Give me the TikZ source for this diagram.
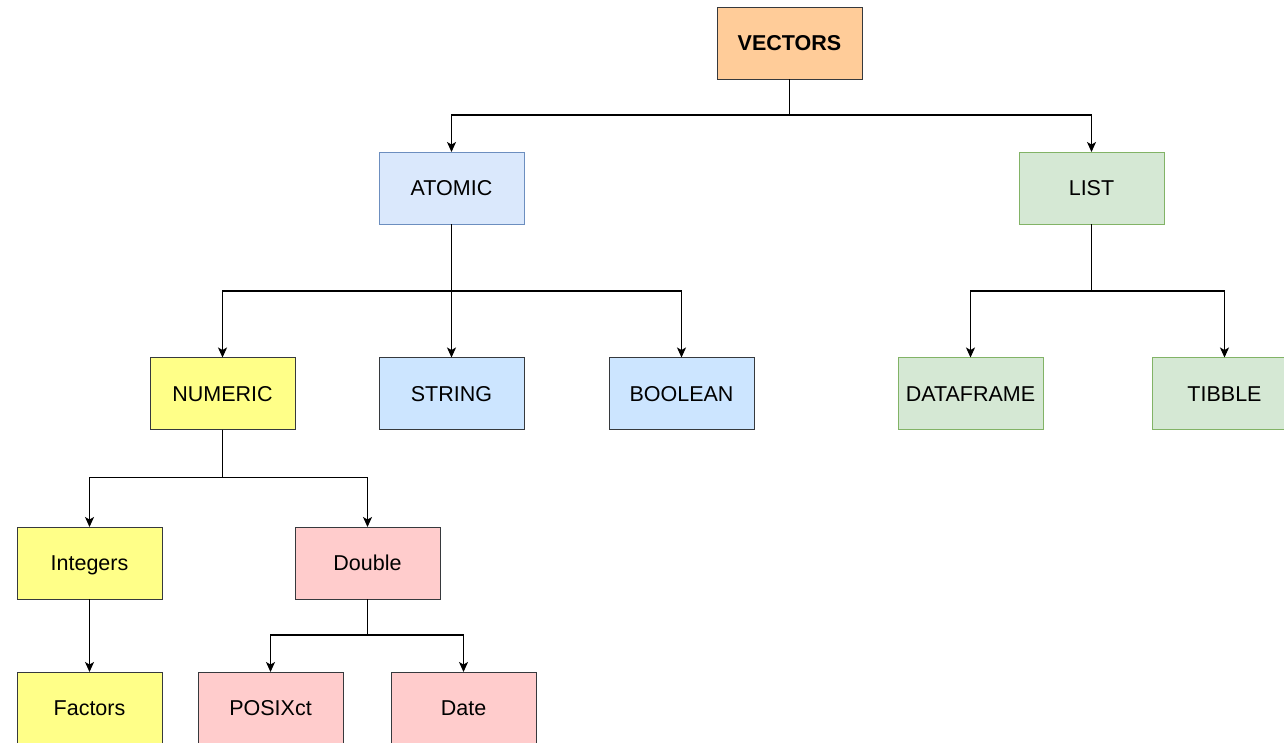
\documentclass[tikz,border=0pt]{standalone}
\usepackage{fontspec}
\setmainfont{Liberation Sans}
\usetikzlibrary{arrows.meta}
\definecolor{orfill}{HTML}{FFCC99}
\definecolor{dkline}{HTML}{36393D}
\definecolor{bluefill}{HTML}{DAE8FC}
\definecolor{blueline}{HTML}{6C8EBF}
\definecolor{bluefillb}{HTML}{CCE5FF}
\definecolor{grfill}{HTML}{D5E8D4}
\definecolor{grline}{HTML}{82B366}
\definecolor{yefill}{HTML}{FFFF88}
\definecolor{pkfill}{HTML}{FFCCCC}
\tikzset{
  box/.style={rectangle, minimum width=145pt, minimum height=72pt, inner sep=0pt, outer sep=0pt, line width=1pt, font=\fontsize{21.5}{25}\selectfont, text height=15.4pt, text depth=0pt},
  orbox/.style={box, fill=orfill, draw=dkline},
  bluebox/.style={box, fill=bluefill, draw=blueline},
  sbluebox/.style={box, fill=bluefillb, draw=dkline},
  grbox/.style={box, fill=grfill, draw=grline},
  yebox/.style={box, fill=yefill, draw=dkline},
  pkbox/.style={box, fill=pkfill, draw=dkline},
  arr/.style={draw=black, line width=1.2pt, -{Stealth[length=10pt,width=9pt,inset=2.5pt]}}
}
\begin{document}
\begin{tikzpicture}[x=1pt,y=-1pt]
\useasboundingbox (0,0) rectangle (1284,742);
\clip (0,0) rectangle (1284,742);
\fill[white] (0,0) rectangle (1284,742);
\node[orbox] (vec) at (789.5,43) {\textbf{VECTORS}};
\node[bluebox] (atomic) at (451.5,188) {ATOMIC};
\node[grbox] (list) at (1091.5,188) {LIST};
\node[yebox] (numeric) at (222.5,393.5) {NUMERIC};
\node[sbluebox] (string) at (451.5,393.5) {STRING};
\node[sbluebox] (boolean) at (681.5,393.5) {BOOLEAN};
\node[grbox] (dataframe) at (970.5,393.5) {DATAFRAME};
\node[grbox] (tibble) at (1224.5,393.5) {TIBBLE};
\node[yebox] (integers) at (89.5,563) {Integers};
\node[pkbox] (double) at (367.5,563) {Double};
\node[yebox] (factors) at (89.5,708) {Factors};
\node[pkbox] (posixct) at (270.5,708) {POSIXct};
\node[pkbox] (date) at (463.5,708) {Date};
\draw[arr] (vec.south) -- ++(0,36) -| (atomic.north);
\draw[arr] (vec.south) -- ++(0,36) -| (list.north);
\draw[arr] (atomic.south) -- ++(0,67) -| (numeric.north);
\draw[arr] (atomic.south) -- (string.north);
\draw[arr] (atomic.south) -- ++(0,67) -| (boolean.north);
\draw[arr] (list.south) -- ++(0,67) -| (dataframe.north);
\draw[arr] (list.south) -- ++(0,67) -| (tibble.north);
\draw[arr] (numeric.south) -- ++(0,48) -| (integers.north);
\draw[arr] (numeric.south) -- ++(0,48) -| (double.north);
\draw[arr] (integers.south) -- (factors.north);
\draw[arr] (double.south) -- ++(0,36) -| (posixct.north);
\draw[arr] (double.south) -- ++(0,36) -| (date.north);
\end{tikzpicture}
\end{document}
